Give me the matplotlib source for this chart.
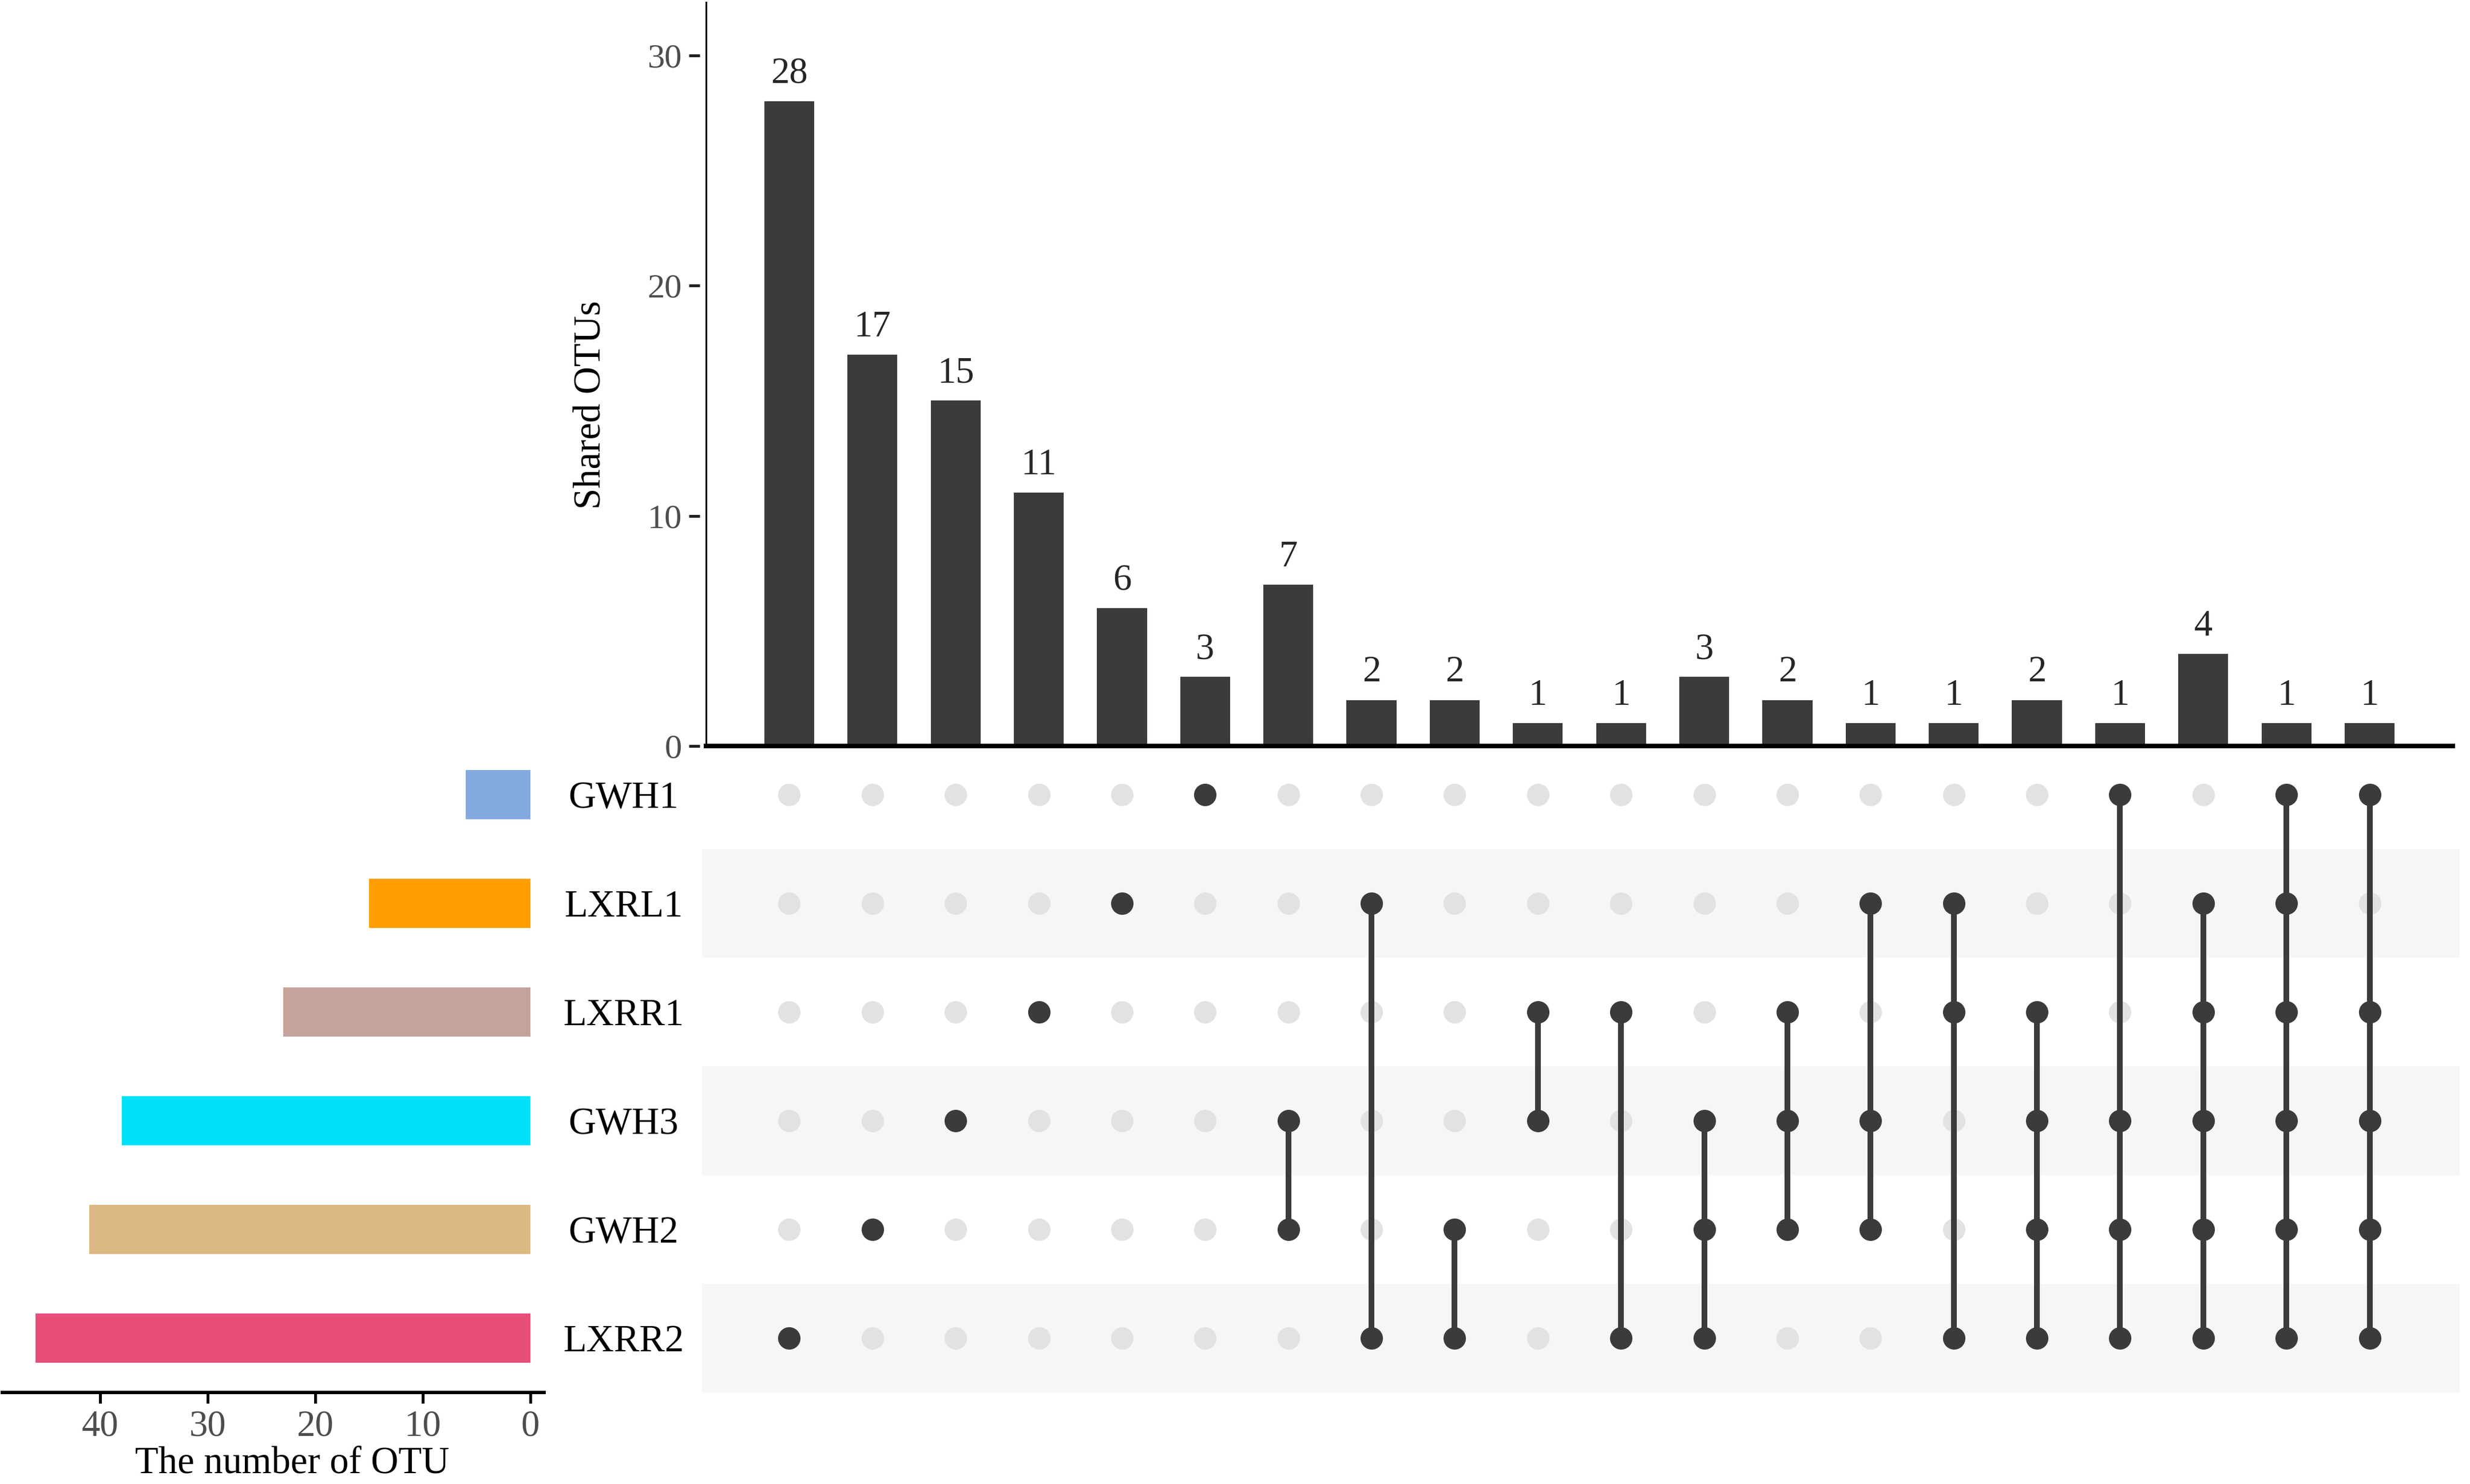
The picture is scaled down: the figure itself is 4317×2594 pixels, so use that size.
import numpy as np
import matplotlib.pyplot as plt
from matplotlib.patches import Rectangle
from matplotlib.transforms import blended_transform_factory

plt.rcParams['font.family'] = ['Liberation Serif', 'DejaVu Serif']

# sets, from top row to bottom row
sets = ['GWH1', 'LXRL1', 'LXRR1', 'GWH3', 'GWH2', 'LXRR2']
set_sizes = [6, 15, 23, 38, 41, 46]
set_colors = ['#84a9df', '#ff9e00', '#c4a39a', '#00e0f6', '#dcb983', '#e84e7a']

# intersections (left to right)
counts = [28, 17, 15, 11, 6, 3, 7, 2, 2, 1, 1, 3, 2, 1, 1, 2, 1, 4, 1, 1]
members = [
    ['LXRR2'],
    ['GWH2'],
    ['GWH3'],
    ['LXRR1'],
    ['LXRL1'],
    ['GWH1'],
    ['GWH3', 'GWH2'],
    ['LXRL1', 'LXRR2'],
    ['GWH2', 'LXRR2'],
    ['LXRR1', 'GWH3'],
    ['LXRR1', 'LXRR2'],
    ['GWH3', 'GWH2', 'LXRR2'],
    ['LXRR1', 'GWH3', 'GWH2'],
    ['LXRL1', 'GWH3', 'GWH2'],
    ['LXRL1', 'LXRR1', 'LXRR2'],
    ['LXRR1', 'GWH3', 'GWH2', 'LXRR2'],
    ['GWH1', 'GWH3', 'GWH2', 'LXRR2'],
    ['LXRL1', 'LXRR1', 'GWH3', 'GWH2', 'LXRR2'],
    ['GWH1', 'LXRL1', 'LXRR1', 'GWH3', 'GWH2', 'LXRR2'],
    ['GWH1', 'LXRR1', 'GWH3', 'GWH2', 'LXRR2'],
]

dark = '#3b3b3b'
light_dot = '#e2e2e2'
stripe = '#f6f6f6'
tick_col = '#4d4d4d'

W, H = 4317, 2594
fig = plt.figure(figsize=(W / 300, H / 300), dpi=300)

def px_axes(x0, y0, x1, y1):
    # axes box given in pixel coords (origin top-left)
    return fig.add_axes([x0 / W, 1 - y1 / H, (x1 - x0) / W, (y1 - y0) / H])

cols = np.arange(1, len(counts) + 1)
rows = np.arange(len(sets))

# ---- matrix
ax_m = px_axes(1234, 1294, 4287, 2434)
ax_m.set_facecolor('none')
ax_m.set_xlim(0, 21)
ax_m.set_ylim(len(sets) - 0.5, -0.5)
for i in rows:
    if i % 2 == 1:
        ax_m.add_patch(Rectangle((-0.05, i - 0.5), 21.13, 1, facecolor=stripe,
                                 edgecolor='none', clip_on=False, zorder=0))
for j, m in zip(cols, members):
    active = [sets.index(s) for s in m]
    inactive = [i for i in rows if i not in active]
    ax_m.plot([j] * len(inactive), inactive, 'o', color=light_dot, ms=9.4,
              mec='none', zorder=2)
    if len(active) > 1:
        ax_m.plot([j, j], [min(active), max(active)], color=dark, lw=2.4,
                  solid_capstyle='butt', zorder=3)
    ax_m.plot([j] * len(active), active, 'o', color=dark, ms=9.4,
              mec='none', zorder=4)
ax_m.axis('off')

# set labels between the set-size bars and the matrix
lab_tr = blended_transform_factory(fig.transFigure, ax_m.transData)
for i, s in enumerate(sets):
    ax_m.text(1090 / W, i, s, transform=lab_tr, ha='center',
              va='center_baseline', fontsize=16, color='black')

# ---- intersection bars
ax_b = px_axes(1234, 4, 4287, 1304)
ax_b.bar(cols, counts, width=0.6, color=dark, zorder=2)
ax_b.set_xlim(0, 21)
ax_b.set_ylim(0, 32.3)
for x, c in zip(cols, counts):
    ax_b.annotate(str(c), (x, c), xytext=(0, 7.7), textcoords='offset points',
                  ha='center', va='baseline', fontsize=15.5, color='#262626')
ax_b.set_yticks([0, 10, 20, 30])
ax_b.set_xticks([])
for s in ['top', 'right']:
    ax_b.spines[s].set_visible(False)
ax_b.spines['bottom'].set_linewidth(1.9)
ax_b.spines['bottom'].set_color('black')
# ticks sit a little away from the axis line, as in the original
ax_b.spines['left'].set_position(('outward', 2.6))
ax_b.spines['left'].set_visible(False)
ax_b.plot([0, 0], [0, 1], transform=ax_b.transAxes, color='black', lw=0.7,
          clip_on=False)
ax_b.tick_params(axis='y', direction='out', length=4.6, width=1.2, color='#222222',
                 labelsize=14.5, labelcolor=tick_col, pad=2.9)
ax_b.set_ylabel('Shared OTUs', fontsize=16, color='black')
ax_b.yaxis.set_label_coords(-0.056, 0.459)

# ---- set size bars
ax_s = px_axes(4, 1294, 951, 2434)
ax_s.barh(rows, set_sizes, height=0.45, color=set_colors)
ax_s.set_ylim(len(sets) - 0.5, -0.5)
ax_s.set_xlim(49.1, -1.28)
ax_s.set_xticks([40, 30, 20, 10, 0])
ax_s.set_yticks([])
for s in ['top', 'right', 'left']:
    ax_s.spines[s].set_visible(False)
ax_s.spines['bottom'].set_linewidth(1.4)
ax_s.tick_params(axis='x', direction='out', length=4.6, width=1.2, color='black',
                 labelsize=15.5, labelcolor=tick_col, pad=2.6)
ax_s.set_xlabel('The number of OTU', fontsize=16, color='black')
ax_s.xaxis.set_label_coords(0.535, -0.082)

fig.savefig('out.png', dpi=300)
